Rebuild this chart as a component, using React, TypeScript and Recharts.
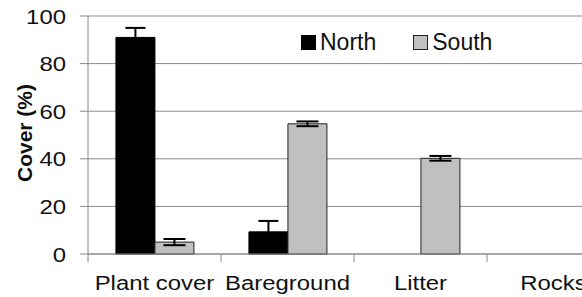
import {Bar, BarChart, CartesianGrid, ErrorBar, XAxis, YAxis} from 'recharts';

const categories = ['Plant cover', 'Bareground', 'Litter', 'Rocks'];
const north = [91, 9.3, 0, 0];
const northErr = [4, 4.6, null, null];
const south = [5, 54.7, 40.2, 0];
const southErr = [1.3, 1, 1, null];
const yTicks = [0, 20, 40, 60, 80, 100];
const seriesNames = ['North', 'South'];
const seriesFills = ['#000', '#c0c0c0'];

const data = categories.map((name, i) => ({
  name,
  north: north[i],
  northErr: northErr[i],
  south: south[i],
  southErr: southErr[i],
}));

const FONT = '"Liberation Sans", Arial, sans-serif';
const STRETCH = 1.14;

// tick label sits tickSize + tickMargin (8 + 2) below the axis line
function XTick(props: any) {
  const {x, y, payload} = props;
  const half = payload?.offset ?? 66.5;
  return (
    <g>
      <line x1={x - half} x2={x - half} y1={y - 10} y2={y - 2} stroke="#888" strokeWidth={1} />
      <g transform={`translate(${x},${y})`}>
        <text transform={`scale(${STRETCH},1)`} textAnchor="middle" dy={26} fontSize={21} fontFamily={FONT} fill="#111">
          {payload.value}
        </text>
      </g>
    </g>
  );
}

function YTick(props: any) {
  const {x, y, payload} = props;
  return (
    <g transform={`translate(${x},${y})`}>
      <text transform={`scale(${STRETCH},1)`} textAnchor="end" dy="0.36em" fontSize={21} fontFamily={FONT} fill="#111">
        {payload.value}
      </text>
    </g>
  );
}

function YLabel(props: any) {
  const {viewBox} = props;
  const cx = viewBox.x + 24;
  const cy = viewBox.y + viewBox.height / 2 - 2;
  return (
    <text x={cx} y={cy} transform={`rotate(-90 ${cx} ${cy})`} textAnchor="middle" dy="0.36em" fontSize={21} fontWeight="bold" fontFamily={FONT} fill="#111">
      Cover (%)
    </text>
  );
}

function LegendBox() {
  return (
    <div style={{position: 'absolute', top: 29, left: 301, display: 'flex', fontFamily: FONT, fontSize: 23, color: '#111', lineHeight: '26px'}}>
      {seriesNames.map((label, i) => (
        <div key={label} style={{display: 'flex', alignItems: 'center', marginRight: 37}}>
          <span style={{display: 'inline-block', width: 13, height: 13, background: seriesFills[i], border: i ? '1px solid #222' : '1px solid #000', marginRight: 4}} />
          <span>{label}</span>
        </div>
      ))}
    </div>
  );
}

export default function App() {
  return (
    <div style={{position: 'absolute', left: 0, top: 0, width: 582, height: 297, overflow: 'hidden', background: '#fff'}}>
      <BarChart width={640} height={297} data={data} margin={{top: 16, right: 20, left: 0, bottom: 0}} barGap={0} barCategoryGap="21%">
        <CartesianGrid horizontal vertical={false} stroke="#8c8c8c" />
        <XAxis dataKey="name" height={43} axisLine={{stroke: '#888'}} tickLine={false} tickSize={8} tickMargin={2} tick={<XTick />} interval={0} />
        <YAxis width={88} domain={[0, 100]} ticks={yTicks} axisLine={{stroke: '#888'}} tickLine={{stroke: '#888'}} tickSize={8} tickMargin={14} tick={<YTick />} label={<YLabel />} />
        <Bar dataKey="north" name={seriesNames[0]} fill={seriesFills[0]} stroke="#000" strokeWidth={1} isAnimationActive={false}>
          <ErrorBar dataKey="northErr" width={10} stroke="#000" strokeWidth={2} direction="y" />
        </Bar>
        <Bar dataKey="south" name={seriesNames[1]} fill={seriesFills[1]} stroke="#222" strokeWidth={1} isAnimationActive={false}>
          <ErrorBar dataKey="southErr" width={11} stroke="#000" strokeWidth={2} direction="y" />
        </Bar>
      </BarChart>
      <LegendBox />
    </div>
  );
}
